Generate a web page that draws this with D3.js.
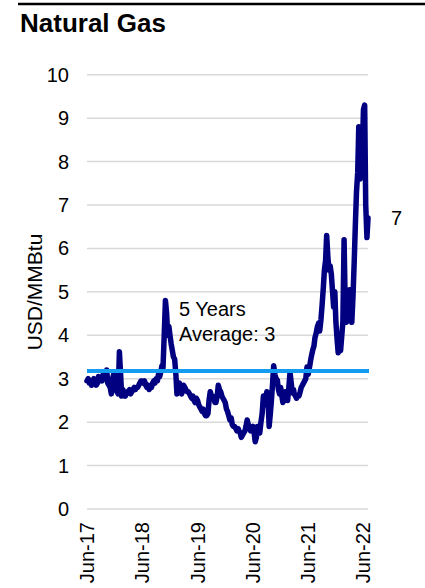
<!DOCTYPE html>
<html>
<head>
<meta charset="utf-8">
<script src="https://cdn.jsdelivr.net/npm/d3@7"></script>
<style>
  html, body { margin: 0; padding: 0; background: #fff; }
  svg { display: block; font-family: "Liberation Sans", Arial, sans-serif; }
</style>
</head>
<body>
<svg id="chart" width="425" height="588"></svg>
<script>
// ---------------- DATA ----------------
const title = "Natural Gas";
const yAxisTitle = "USD/MMBtu";
const startYear = 2017, startMonth = 5; // June 2017 (0-based month)
// Henry Hub front-month, ~weekly readings, 4 per month, Jun-2017 ... Jun-2022
const weeklyPrices = [
  2.95, 3.00, 2.90, 2.95,   // Jun-17
  2.85, 2.95, 3.00, 2.95,   // Jul-17
  2.85, 2.90, 3.05, 2.95,   // Aug-17
  3.00, 2.95, 3.10, 3.00,   // Sep-17
  3.00, 3.20, 2.90, 2.85,   // Oct-17
  2.80, 2.65, 3.00, 3.10,   // Nov-17
  3.00, 2.80, 2.70, 2.65,   // Dec-17
  3.62, 3.10, 2.60, 2.75,   // Jan-18
  2.65, 2.60, 2.65, 2.70,   // Feb-18
  2.70, 2.75, 2.65, 2.70,   // Mar-18
  2.75, 2.80, 2.75, 2.80,   // Apr-18
  2.80, 2.85, 2.90, 2.95,   // May-18
  2.95, 2.90, 2.95, 2.85,   // Jun-18
  2.80, 2.85, 2.75, 2.80,   // Jul-18
  2.80, 2.90, 2.95, 2.90,   // Aug-18
  3.00, 2.95, 3.10, 3.05,   // Sep-18
  3.15, 3.30, 3.25, 4.00,   // Oct-18
  4.80, 4.50, 4.00, 4.20,   // Nov-18
  4.00, 3.80, 3.66, 3.50,   // Dec-18
  3.45, 3.10, 2.65, 2.90,   // Jan-19
  2.90, 2.80, 2.65, 2.75,   // Feb-19
  2.85, 2.80, 2.75, 2.70,   // Mar-19
  2.70, 2.65, 2.60, 2.55,   // Apr-19
  2.60, 2.50, 2.45, 2.55,   // May-19
  2.50, 2.40, 2.35, 2.30,   // Jun-19
  2.25, 2.30, 2.20, 2.15,   // Jul-19
  2.15, 2.20, 2.50, 2.70,   // Aug-19
  2.60, 2.60, 2.55, 2.45,   // Sep-19
  2.45, 2.60, 2.85, 2.75,   // Oct-19
  2.70, 2.60, 2.55, 2.50,   // Nov-19
  2.45, 2.30, 2.25, 2.15,   // Dec-19
  2.05, 2.10, 1.95, 1.90,   // Jan-20
  1.90, 1.85, 1.80, 1.85,   // Feb-20
  1.80, 1.75, 1.65, 1.70,   // Mar-20
  1.75, 1.80, 1.90, 2.05,   // Apr-20
  1.95, 1.90, 1.80, 1.85,   // May-20
  1.90, 1.75, 1.55, 1.65,   // Jun-20
  1.90, 1.80, 1.75, 2.00,   // Jul-20
  2.20, 2.60, 2.40, 2.55,   // Aug-20
  2.70, 2.50, 1.90, 2.20,   // Sep-20
  2.50, 2.90, 3.30, 3.10,   // Oct-20
  3.00, 2.97, 2.75, 2.65,   // Nov-20
  2.80, 2.60, 2.45, 2.55,   // Dec-20
  2.70, 2.65, 2.50, 2.80,   // Jan-21
  3.15, 2.90, 2.67, 2.75,   // Feb-21
  2.65, 2.60, 2.55, 2.60,   // Mar-21
  2.60, 2.70, 2.80, 2.85,   // Apr-21
  2.90, 2.95, 3.00, 3.27,   // May-21
  3.10, 3.25, 3.40, 3.55,   // Jun-21
  3.66, 3.75, 3.95, 4.05,   // Jul-21
  4.20, 4.28, 4.10, 4.35,   // Aug-21
  4.70, 5.10, 5.50, 5.73,   // Sep-21
  6.30, 5.80, 5.50, 5.60,   // Oct-21
  5.40, 5.00, 4.65, 5.00,   // Nov-21
  4.30, 3.90, 3.60, 3.70,   // Dec-21
  3.65, 4.00, 4.30, 6.20,   // Jan-22
  4.60, 4.30, 4.50, 4.60,   // Feb-22
  5.05, 4.80, 4.30, 4.90,   // Mar-22
  5.70, 6.60, 7.30, 7.75,   // Apr-22
  8.80, 7.60, 8.30, 8.10,   // May-22
  9.20, 9.30, 7.00, 6.25    // Jun-22
];
const lastPrice = 6.7;          // 1-Jul-22
const averageValue = 3.18;      // 5-year average
const annotationLines = ["5 Years", "Average: 3"];
const lastLabel = "7";
const yTicks = [0, 1, 2, 3, 4, 5, 6, 7, 8, 9, 10];
const xTickLabels = ["Jun-17", "Jun-18", "Jun-19", "Jun-20", "Jun-21", "Jun-22"];

// ---------------- BUILD ----------------
const series = weeklyPrices.map((v, i) => {
  const m = Math.floor(i / 4), k = i % 4;
  return { date: new Date(startYear, startMonth + m, 1 + Math.round(k * 7.5)), value: v };
});
series.push({ date: new Date(2022, 6, 1), value: lastPrice });

const svg = d3.select("#chart");

const x = d3.scaleTime()
  .domain([new Date(2017, 5, 1), new Date(2022, 6, 1)])
  .range([87, 368]);
const y = d3.scaleLinear().domain([0, 10]).range([509, 74.7]);

// top rule
svg.append("line").attr("x1", 18).attr("x2", 425).attr("y1", 4).attr("y2", 4)
  .attr("stroke", "#000").attr("stroke-width", 2.5);

// title
svg.append("text").attr("x", 20).attr("y", 32)
  .attr("font-size", 26).attr("font-weight", "bold").attr("fill", "#000").text(title);

// gridlines
svg.append("g").selectAll("line").data(yTicks).join("line")
  .attr("x1", x.range()[0]).attr("x2", x.range()[1])
  .attr("y1", d => y(d)).attr("y2", d => y(d))
  .attr("stroke", "#d9d9d9").attr("stroke-width", 1.5);

// y tick labels
svg.append("g").selectAll("text").data(yTicks).join("text")
  .attr("x", 69).attr("y", d => y(d)).attr("dy", "0.35em")
  .attr("text-anchor", "end").attr("font-size", 20).attr("fill", "#000")
  .text(d => d);

// y axis title
svg.append("text")
  .attr("transform", "translate(35,292) rotate(-90)")
  .attr("text-anchor", "middle").attr("dy", "0.35em")
  .attr("font-size", 21).attr("fill", "#000").text(yAxisTitle);

// x tick labels
const xTickDates = xTickLabels.map((_, i) => new Date(2017 + i, 5, 1));
svg.append("g").selectAll("text").data(xTickDates).join("text")
  .attr("transform", (d) => `translate(${x(d)},522) rotate(-90)`)
  .attr("text-anchor", "end").attr("dy", "0.35em")
  .attr("font-size", 20).attr("fill", "#000")
  .text((d, i) => xTickLabels[i]);

// price line
const line = d3.line().x(d => x(d.date)).y(d => y(d.value));
svg.append("path").datum(series)
  .attr("d", line).attr("fill", "none")
  .attr("stroke", "#000080").attr("stroke-width", 5.5)
  .attr("stroke-linejoin", "round").attr("stroke-linecap", "round");

// average line
svg.append("line")
  .attr("x1", x.range()[0]).attr("x2", x.range()[1] + 1)
  .attr("y1", y(averageValue)).attr("y2", y(averageValue))
  .attr("stroke", "#139cf2").attr("stroke-width", 4);

// annotation
svg.append("g").selectAll("text").data(annotationLines).join("text")
  .attr("x", 179).attr("y", (d, i) => 316 + i * 25)
  .attr("font-size", 20).attr("fill", "#000").text(d => d);

// last value label
svg.append("text").attr("x", 391).attr("y", y(lastPrice)).attr("dy", "0.35em")
  .attr("font-size", 20).attr("fill", "#000").text(lastLabel);
</script>
</body>
</html>
